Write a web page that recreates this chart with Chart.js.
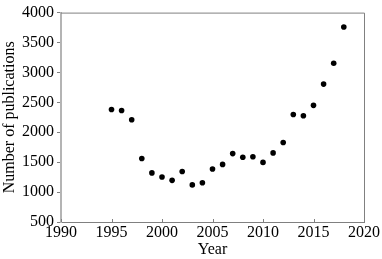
<!DOCTYPE html>
<html>
<head>
<meta charset="utf-8">
<script src="https://cdn.jsdelivr.net/npm/chart.js@4/dist/chart.umd.min.js"></script>
<style>
  html, body { margin: 0; padding: 0; background: #fff; }
  #wrap { width: 382px; height: 259px; }
</style>
</head>
<body>
<div id="wrap"><canvas id="chart" width="382" height="259"></canvas></div>
<script>
// data
const years = [1995, 1996, 1997, 1998, 1999, 2000, 2001, 2002, 2003, 2004, 2005, 2006,
  2007, 2008, 2009, 2010, 2011, 2012, 2013, 2014, 2015, 2016, 2017, 2018];
const publications = [2380, 2364, 2210, 1562, 1321, 1251, 1196, 1344, 1120, 1157, 1386, 1463,
  1643, 1583, 1590, 1496, 1655, 1828, 2298, 2276, 2450, 2805, 3154, 3760];
const xTicks = [1990, 1995, 2000, 2005, 2010, 2015, 2020];
const yTicks = [500, 1000, 1500, 2000, 2500, 3000, 3500, 4000];

const font = { family: "'Liberation Serif', 'DejaVu Serif', serif", size: 16 };
const plain = v => String(v);

// box round the plot plus the inward ticks on the year axis
const frame = {
  id: "frame",
  afterDraw(chart) {
    const { ctx, chartArea: a } = chart;
    const xs = chart.scales.x;
    ctx.save();
    ctx.strokeStyle = "#808080";
    ctx.lineWidth = 1;
    ctx.beginPath();
    ctx.moveTo(a.left, a.top + 0.5);
    ctx.lineTo(a.right + 0.5, a.top + 0.5);
    ctx.lineTo(a.right + 0.5, a.bottom);
    ctx.stroke();
    ctx.beginPath();
    xTicks.forEach(v => {
      const px = Math.round(xs.getPixelForValue(v)) + 0.5;
      ctx.moveTo(px, a.bottom);
      ctx.lineTo(px, a.bottom - 3);
    });
    ctx.stroke();
    ctx.restore();
  }
};

new Chart(document.getElementById("chart"), {
  type: "scatter",
  data: {
    datasets: [{
      data: years.map((y, i) => ({ x: y, y: publications[i] })),
      backgroundColor: "#000",
      borderColor: "#000",
      pointRadius: 2.8,
      pointBorderWidth: 0
    }]
  },
  options: {
    responsive: false,
    animation: false,
    devicePixelRatio: 1,
    layout: { padding: { left: 0, top: 8, right: 18, bottom: 0 } },
    plugins: { legend: { display: false }, tooltip: { enabled: false } },
    scales: {
      x: {
        type: "linear",
        min: 1990,
        max: 2020,
        afterBuildTicks: s => { s.ticks = xTicks.map(v => ({ value: v })); },
        afterFit: s => { s.height = 37; },
        ticks: { color: "#000", font, padding: 1, maxRotation: 0, callback: plain },
        grid: { display: false, drawTicks: false },
        border: { display: true, color: "#808080", width: 1 },
        title: { display: true, text: "Year", color: "#000", font, padding: { top: 0, bottom: 0 } }
      },
      y: {
        min: 500,
        max: 4000,
        afterBuildTicks: s => { s.ticks = yTicks.map(v => ({ value: v })); },
        afterFit: s => { s.width = 61; },
        ticks: { color: "#000", font, padding: 3, callback: plain },
        grid: { display: true, drawOnChartArea: false, drawTicks: true, tickLength: 4, color: "#808080" },
        border: { display: true, color: "#b4b4b4", width: 2 },
        title: { display: true, text: "Number of publications", color: "#000", font, padding: { top: 0, bottom: 0 } }
      }
    }
  },
  plugins: [frame]
});
</script>
</body>
</html>
